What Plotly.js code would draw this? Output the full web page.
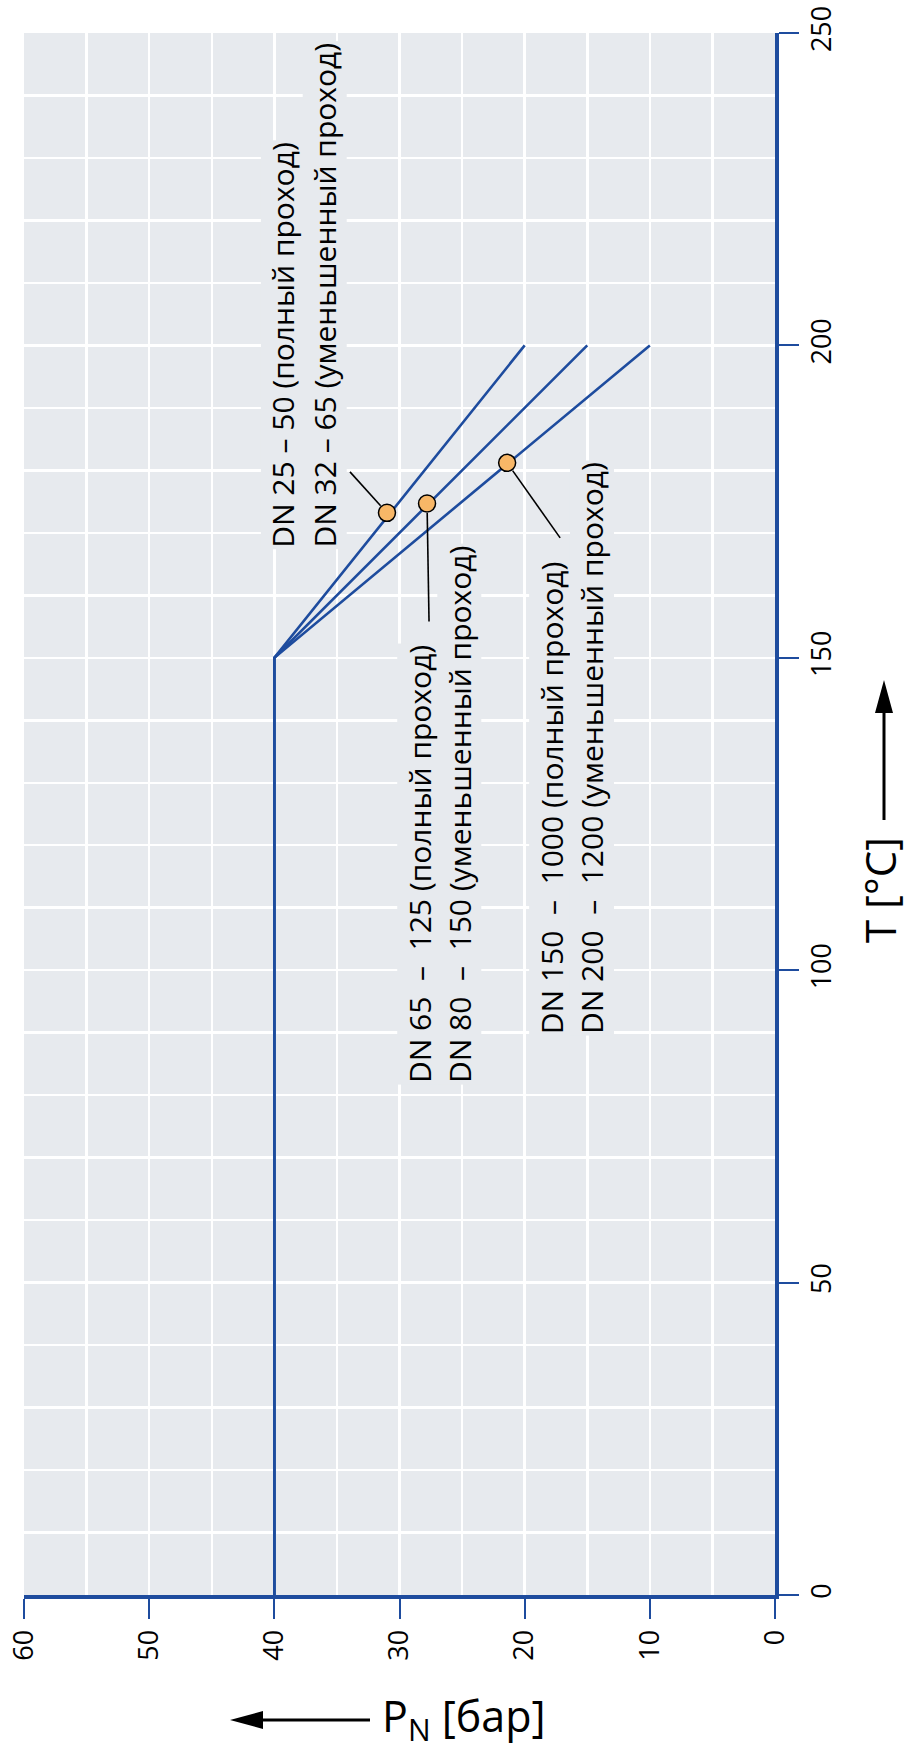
<!DOCTYPE html>
<html><head><meta charset="utf-8">
<script src="https://cdn.plot.ly/plotly-3.0.1.min.js"></script>
<style>html,body{margin:0;padding:0;background:#fff;} #chart{width:907px;height:1750px;}</style>
</head><body><div id="chart"></div>
<script>
// ---- data ----
const temperature = [0, 150, 200];          // T [°C]
const pressureA = [40, 40, 20];             // DN 25–50 / DN 32–65
const pressureB = [40, 40, 15];             // DN 65–125 / DN 80–150
const pressureC = [40, 40, 10];             // DN 150–1000 / DN 200–1200
const markerPressure = [31.0, 27.8, 21.4];
const markerTemperature = [173.2, 174.7, 181.2];
const labelLines = [
  ['DN 25 – 50 (полный проход)', 'DN 32 – 65 (уменьшенный проход)'],
  ['DN 65\u00a0 – \u00a0125 (полный проход)', 'DN 80\u00a0 – \u00a0150 (уменьшенный проход)'],
  ['DN 150\u00a0 – \u00a01000 (полный проход)', 'DN 200\u00a0 – \u00a01200 (уменьшенный проход)']
];
const pressureTicks = [0, 10, 20, 30, 40, 50, 60];
const temperatureTicks = [0, 50, 100, 150, 200, 250];
const xTitle = 'P<sub>N</sub> [бар]';
const yTitle = 'T [°C]';

// ---- style / geometry ----
const W = 907, H = 1750;
const M = {l: 24, r: 132, t: 33, b: 155};
const pw = W - M.l - M.r, ph = H - M.t - M.b;
const px = x => (x - M.l) / pw;
const py = y => (H - M.b - y) / ph;
const BLUE = '#1e4c9e';
const BG = '#e7eaee';
const FONT = 'Open Sans';

const lineStyle = {color: BLUE, width: 2.6};
const traces = [pressureA, pressureB, pressureC].map(p => ({
  type: 'scatter', mode: 'lines', x: p, y: temperature,
  line: lineStyle, hoverinfo: 'skip', showlegend: false
}));
traces.push({
  type: 'scatter', mode: 'markers', x: markerPressure, y: markerTemperature,
  marker: {size: 17, color: '#f8b767', line: {color: '#000', width: 1.5}},
  hoverinfo: 'skip', showlegend: false
});

// label placement (data coordinates of each text line's box)
const labelX = [[39.3, 36.0], [28.45, 25.25], [17.9, 14.6]];
const labelY = [167.3, 81.6, 89.5];
// leader line offsets in pixels (x right, y up) from each marker
const leaderOffsets = [[-37, 41], [2, -118], [53, -75]];

const annotations = [];
labelLines.forEach((lines, j) => {
  lines.forEach((t, i) => {
    annotations.push({
      xref: 'x', yref: 'y', x: labelX[j][i], y: labelY[j],
      text: t, textangle: -90, showarrow: false,
      xanchor: 'center', yanchor: 'bottom',
      font: {family: FONT, size: 30, color: '#000'},
      bgcolor: BG, borderpad: 1
    });
  });
});
annotations.push({
  xref: 'paper', yref: 'paper', x: px(464), y: py(1718),
  text: xTitle, showarrow: false, xanchor: 'center', yanchor: 'middle',
  font: {family: FONT, size: 43, color: '#000'}
});
annotations.push({
  xref: 'paper', yref: 'paper', x: px(879), y: py(890),
  text: yTitle, textangle: -90, showarrow: false, xanchor: 'center', yanchor: 'middle',
  font: {family: FONT, size: 42, color: '#000'}
});

const shapes = [];
leaderOffsets.forEach((o, i) => {
  const len = Math.hypot(o[0], o[1]);
  const r = 9.5;
  shapes.push({
    type: 'line', xref: 'x', yref: 'y', xsizemode: 'pixel', ysizemode: 'pixel',
    xanchor: markerPressure[i], yanchor: markerTemperature[i],
    x0: o[0] / len * r, y0: o[1] / len * r, x1: o[0], y1: o[1],
    line: {color: '#000', width: 1.6}
  });
});
// axis-direction arrows
shapes.push({type: 'line', xref: 'paper', yref: 'paper',
  x0: px(258), x1: px(370), y0: py(1720), y1: py(1720), line: {color: '#000', width: 3}});
shapes.push({type: 'path', xref: 'paper', yref: 'paper', xsizemode: 'pixel', ysizemode: 'pixel',
  xanchor: px(230), yanchor: py(1720), path: 'M0,0 L33,9 L33,-9 Z',
  fillcolor: '#000', line: {width: 0}});
shapes.push({type: 'line', xref: 'paper', yref: 'paper',
  x0: px(884), x1: px(884), y0: py(708), y1: py(820), line: {color: '#000', width: 3}});
shapes.push({type: 'path', xref: 'paper', yref: 'paper', xsizemode: 'pixel', ysizemode: 'pixel',
  xanchor: px(884), yanchor: py(680), path: 'M0,0 L9,-33 L-9,-33 Z',
  fillcolor: '#000', line: {width: 0}});

const axisCommon = {
  showline: true, linecolor: BLUE, linewidth: 4,
  ticks: 'outside', ticklen: 20, tickwidth: 2, tickcolor: BLUE,
  tickangle: -90, tickfont: {family: FONT, size: 27, color: '#000'},
  showgrid: true, gridcolor: '#ffffff', gridwidth: 2.5,
  zeroline: false, fixedrange: true
};

const layout = {
  width: W, height: H, margin: {l: M.l, r: M.r, t: M.t, b: M.b, pad: 0},
  paper_bgcolor: '#ffffff', plot_bgcolor: BG,
  font: {family: FONT},
  showlegend: false,
  xaxis: Object.assign({}, axisCommon, {
    range: [60, 0], tickvals: pressureTicks, ticktext: pressureTicks.map(String), side: 'bottom',
    minor: {dtick: 5, tick0: 0, showgrid: true, gridcolor: '#ffffff', gridwidth: 2.5, ticks: ''}
  }),
  yaxis: Object.assign({}, axisCommon, {
    range: [0, 250], tickvals: temperatureTicks, ticktext: temperatureTicks.map(String), side: 'right',
    minor: {dtick: 10, tick0: 0, showgrid: true, gridcolor: '#ffffff', gridwidth: 2.5, ticks: ''}
  }),
  annotations: annotations,
  shapes: shapes
};

Plotly.newPlot('chart', traces, layout, {staticPlot: true, displayModeBar: false});
</script></body></html>
